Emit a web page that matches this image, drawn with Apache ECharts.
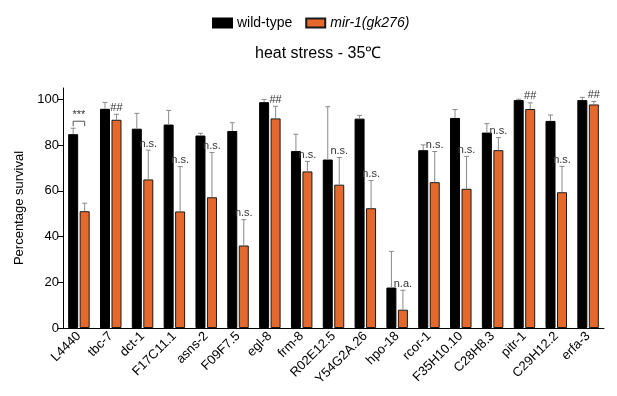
<!DOCTYPE html>
<html>
<head>
<meta charset="utf-8">
<title>heat stress - 35℃</title>
<script src="https://cdn.jsdelivr.net/npm/echarts@6/dist/echarts.min.js"></script>
<style>
  html, body { margin: 0; padding: 0; background: #fff; }
  #main { width: 617px; height: 396px; }
</style>
</head>
<body>
<div id="main"></div>
<script>
  // categories (RNAi targets)
  var genes = ['L4440', 'tbc-7', 'dct-1', 'F17C11.1', 'asns-2', 'F09F7.5', 'egl-8', 'frm-8',
    'R02E12.5', 'Y54G2A.26', 'hpo-18', 'rcor-1', 'F35H10.10', 'C28H8.3', 'pitr-1', 'C29H12.2', 'erfa-3'];

  // wild-type: mean and error (upper half only)
  var wtMean = [84.8, 95.9, 87.2, 89.0, 84.2, 86.2, 98.8, 77.4, 73.7, 91.6, 17.7, 77.8, 91.9, 85.5, 99.7, 90.6, 99.7];
  var wtErr  = [2.6, 2.8, 6.7, 6.2, 1.0, 3.6, 1.2, 7.4, 23.1, 1.4, 15.8, 2.3, 3.7, 3.9, 0.4, 2.6, 1.2];

  // mir-1(gk276)
  var mutMean = [51.1, 91.1, 65.0, 51.0, 57.2, 36.1, 91.7, 68.5, 62.7, 52.4, 8.0, 63.8, 60.9, 77.8, 95.8, 59.4, 97.8];
  var mutErr  = [3.5, 2.4, 12.8, 19.6, 19.6, 11.3, 5.3, 4.4, 11.9, 12.1, 8.5, 13.4, 14.2, 5.5, 2.7, 11.3, 1.3];

  // significance marks above mutant bars
  var marks = ['***', '##', 'n.s.', 'n.s.', 'n.s.', 'n.s.', '##', 'n.s.', 'n.s.', 'n.s.', 'n.a.', 'n.s.', 'n.s.', 'n.s.', '##', 'n.s.', '##'];

  var yTicks = [0, 20, 40, 60, 80, 100];

  var barW = 10;
  var gapPx = 1.5;
  var half = (barW + gapPx) / 2;
  var errColor = '#8a8a8a';
  var font = 'Liberation Sans, Arial, sans-serif';

  function errItem(meanArr, shift, withMarks) {
    return function (params, api) {
      var i = api.value(0);
      var base = api.coord([i, api.value(1)]);
      var top = api.coord([i, api.value(1) + api.value(2)]);
      var x = base[0] + shift;
      var kids = [
        { type: 'line', shape: { x1: x, y1: base[1], x2: x, y2: top[1] }, style: { stroke: errColor, lineWidth: 1 } },
        { type: 'line', shape: { x1: x - 2.5, y1: top[1], x2: x + 2.5, y2: top[1] }, style: { stroke: errColor, lineWidth: 1 } }
      ];
      if (withMarks) {
        var m = marks[params.dataIndex];
        if (m === '***') {
          // bracket between the two bars
          var wtTop = api.coord([i, wtMean[i] + wtErr[i]]);
          var by = wtTop[1] - 7;
          var xl = base[0] - half, xr = base[0] + half;
          kids.push({ type: 'polyline', shape: { points: [[xl, by + 5], [xl, by], [xr, by], [xr, by + 5]] },
            style: { stroke: '#555', lineWidth: 1, fill: null } });
          kids.push({ type: 'text', style: { x: base[0], y: by - 1, text: m, fontSize: 11, fontFamily: font,
            fill: '#333', align: 'center', verticalAlign: 'bottom' } });
        } else {
          kids.push({ type: 'text', style: { x: x, y: top[1] - 1, text: m, fontSize: 11, fontFamily: font,
            fill: '#333', align: 'center', verticalAlign: 'bottom' } });
        }
      }
      return { type: 'group', children: kids };
    };
  }

  var chart = echarts.init(document.getElementById('main'));
  chart.setOption({
    animation: false,
    textStyle: { fontFamily: font },
    title: {
      text: 'heat stress - 35℃',
      left: 250,
      top: 41,
      textStyle: { fontSize: 16, fontWeight: 'normal', color: '#000', fontFamily: font }
    },
    legend: {
      left: 207,
      top: 11,
      itemWidth: 19,
      itemHeight: 9,
      itemGap: 13,
      icon: 'rect',
      textStyle: { fontSize: 14, color: '#000' },
      data: [
        { name: 'wild-type' },
        { name: 'mir-1(gk276)', textStyle: { fontStyle: 'italic' } }
      ]
    },
    grid: { left: 63, right: 13, top: 88, bottom: 68 },
    xAxis: {
      type: 'category',
      data: genes,
      axisLine: { lineStyle: { color: '#000', width: 1 } },
      axisTick: { alignWithLabel: true, length: 5, lineStyle: { color: '#000' } },
      axisLabel: { rotate: 45, margin: 6, fontSize: 13, color: '#000', interval: 0 }
    },
    yAxis: {
      type: 'value',
      min: 0,
      max: 105,
      interval: 20,
      name: 'Percentage survival',
      nameLocation: 'middle',
      nameGap: 32,
      nameTextStyle: { fontSize: 13, color: '#000' },
      axisLine: { show: true, lineStyle: { color: '#000', width: 1 } },
      axisTick: { show: true, length: 5, customValues: yTicks, lineStyle: { color: '#000' } },
      axisLabel: { fontSize: 13, color: '#000', margin: 4, customValues: yTicks },
      splitLine: { show: false }
    },
    series: [
      {
        name: 'wild-type',
        type: 'bar',
        barWidth: barW,
        barGap: '15%',
        data: wtMean,
        itemStyle: { color: '#000', borderColor: '#000', borderWidth: 1 }
      },
      {
        name: 'mir-1(gk276)',
        type: 'bar',
        barWidth: barW,
        data: mutMean,
        itemStyle: { color: '#e5692c', borderColor: '#1a1a1a', borderWidth: 1 }
      },
      {
        type: 'custom',
        z: 5,
        silent: true,
        renderItem: errItem(wtMean, -half, false),
        encode: { x: 0, y: 1 },
        data: genes.map(function (g, i) { return [i, wtMean[i], wtErr[i]]; })
      },
      {
        type: 'custom',
        z: 5,
        silent: true,
        renderItem: errItem(mutMean, half, true),
        encode: { x: 0, y: 1 },
        data: genes.map(function (g, i) { return [i, mutMean[i], mutErr[i]]; })
      }
    ]
  });
</script>
</body>
</html>
